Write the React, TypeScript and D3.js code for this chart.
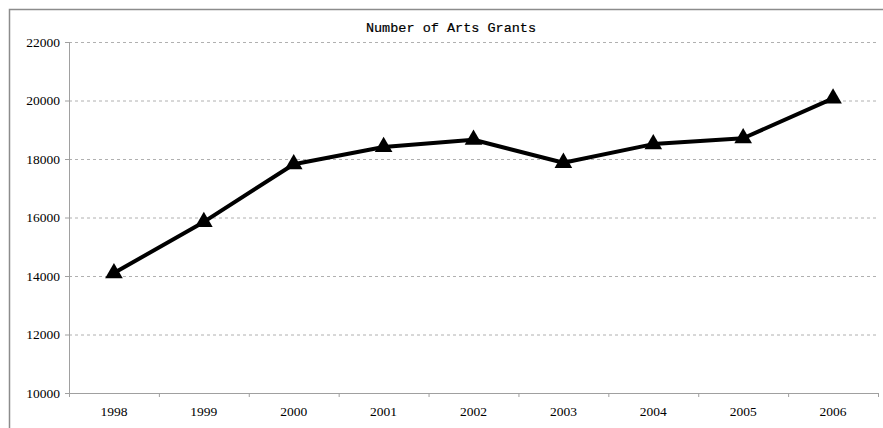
import React from "react";
import * as d3 from "d3";

const years = ["1998", "1999", "2000", "2001", "2002", "2003", "2004", "2005", "2006"];
const grants = [14100, 15850, 17820, 18410, 18660, 17870, 18510, 18710, 20070];
const yTicks = [10000, 12000, 14000, 16000, 18000, 20000, 22000];

const W = 883;
const H = 428;
const left = 69;
const right = 878;
const top = 42;
const bottom = 393;

export default function App() {
  const x = d3.scaleBand<string>().domain(years).range([left, right]).padding(0);
  const y = d3.scaleLinear().domain([10000, 22000]).range([bottom, top]);
  const pts = years.map((yr, i) => [x(yr)! + x.bandwidth() / 2, y(grants[i])] as [number, number]);
  const line = d3.line()(pts) || "";
  const tri = d3.symbol().type(d3.symbolTriangle).size(135)() || "";
  const boundaries = years.map((yr) => x(yr)!).concat([right]);

  return (
    <svg
      width={W}
      height={H}
      style={{ position: "absolute", left: 0, top: 0, background: "#fff" }}
    >
      <rect x={9.5} y={9.5} width={W + 20} height={H + 20} fill="#fff" stroke="#8c8c8c" strokeWidth={1.5} />
      <text
        x={451}
        y={32}
        textAnchor="middle"
        fontFamily="'Liberation Mono', monospace"
        fontSize={13.5}
        fill="#000"
        stroke="#000"
        strokeWidth={0.2}
      >
        Number of Arts Grants
      </text>
      {yTicks.map((t) => (
        <g key={t}>
          {t !== 10000 && (
            <line
              x1={left}
              x2={right}
              y1={y(t) + 0.5}
              y2={y(t) + 0.5}
              stroke="#b0b0b0"
              strokeDasharray="3,3"
            />
          )}
          <line x1={left - 4} x2={left} y1={y(t) + 0.5} y2={y(t) + 0.5} stroke="#a0a0a0" />
          <text
            x={60}
            y={y(t) + 4.5}
            textAnchor="end"
            fontFamily="'Liberation Serif', serif"
            fontSize={13.5}
            fill="#000"
          >
            {t}
          </text>
        </g>
      ))}
      <line x1={left + 0.5} x2={left + 0.5} y1={top} y2={bottom} stroke="#a0a0a0" />
      <line x1={left} x2={right} y1={bottom + 0.5} y2={bottom + 0.5} stroke="#a0a0a0" />
      {boundaries.map((b, i) => (
        <line key={i} x1={b + 0.5} x2={b + 0.5} y1={bottom} y2={bottom + 4} stroke="#a0a0a0" />
      ))}
      {years.map((yr) => (
        <text
          key={yr}
          x={x(yr)! + x.bandwidth() / 2}
          y={416}
          textAnchor="middle"
          fontFamily="'Liberation Serif', serif"
          fontSize={13.5}
          fill="#000"
        >
          {yr}
        </text>
      ))}
      <path d={line} fill="none" stroke="#000" strokeWidth={4} strokeLinejoin="round" />
      {pts.map((p, i) => (
        <path key={i} d={tri} transform={`translate(${p[0]},${p[1]})`} fill="#000" />
      ))}
    </svg>
  );
}
